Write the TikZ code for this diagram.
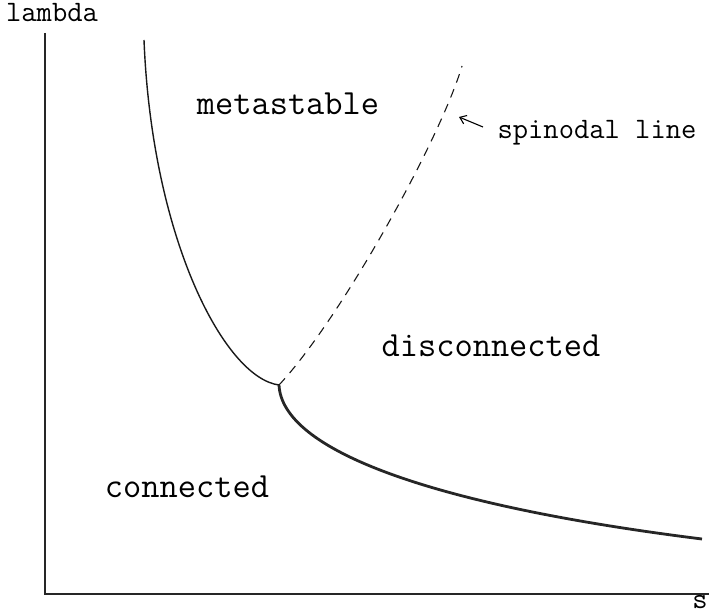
\documentclass[tikz,border=0pt]{standalone}
\usepackage{fontspec}
\usetikzlibrary{arrows.meta}
\begin{document}
\begin{tikzpicture}[x=1pt,y=-1pt,
  big/.style={font=\ttfamily\fontsize{35.4}{35.4}\selectfont,inner sep=0pt,anchor=base},
  small/.style={font=\ttfamily\fontsize{29.7}{29.7}\selectfont,inner sep=0pt,anchor=base},
  axis/.style={line width=1.3pt,color=black!85},
  thinc/.style={line width=1.4pt,color=black!90},
  thickc/.style={line width=2.8pt,color=black!85},
  dashc/.style={line width=1.1pt,color=black!90,dash pattern=on 9pt off 7pt},
  ptr/.style={line width=1.1pt,-{Straight Barb[length=6pt,width=9pt]}}]
\useasboundingbox (0,0) rectangle (709,615);
% axes
\coordinate (top) at (45,33);
\coordinate (origin) at (45,594);
\coordinate (right) at (709,594);
\draw[axis] (top) -- (origin) -- (right);
% labels
\node[small] (lambda) at (52,22) {lambda};
\node[small] (s) at (700,608) {s};
\node[big] (meta) at (288,115) {metastable};
\node[big] (disc) at (491,356) {disconnected};
\node[big] (conn) at (187,497) {connected};
\node[small] (spin) at (597,139) {spinodal line};
% curves
\coordinate (upper) at (144,40);
\coordinate (cusp) at (279,385);
\coordinate (lowend) at (702,539);
\coordinate (spinend) at (462,66);
\draw[thinc] (upper) .. controls (152,240) and (225,378) .. (cusp);
\draw[thickc] (cusp) .. controls (282,450) and (430,505) .. (lowend);
\draw[dashc] (cusp) .. controls (340,320) and (440,140) .. (spinend);
% pointer
\coordinate (tipA) at (459,117);
\coordinate (tailA) at (483,127);
\draw[ptr] (tailA) -- (tipA);
\end{tikzpicture}
\end{document}
